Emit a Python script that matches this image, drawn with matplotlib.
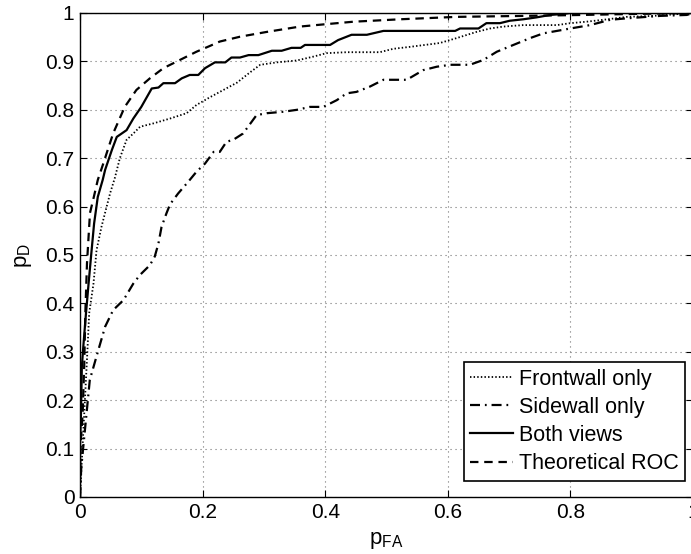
import matplotlib
matplotlib.use("Agg")
import matplotlib.pyplot as plt

plt.rcParams["font.family"] = ["Liberation Sans", "DejaVu Sans"]
plt.rcParams["mathtext.fontset"] = "custom"
plt.rcParams["mathtext.rm"] = "Liberation Sans"

# ROC operating points (false-alarm prob, detection prob)
front_pfa = [0, 0.002, 0.004, 0.008, 0.012, 0.015, 0.022, 0.027, 0.035, 0.0435,
             0.049, 0.057, 0.065, 0.076, 0.087, 0.098, 0.12, 0.147, 0.174, 0.19,
             0.212, 0.234, 0.256, 0.277, 0.294, 0.321, 0.354, 0.381, 0.402, 0.435,
             0.489, 0.511, 0.538, 0.587, 0.614, 0.647, 0.669, 0.691, 0.723, 0.778,
             0.80, 0.826, 0.854, 0.892, 0.935, 1.0]
front_pd = [0, 0.05, 0.1, 0.2, 0.3, 0.38, 0.441, 0.51, 0.558, 0.60,
            0.627, 0.66, 0.70, 0.738, 0.751, 0.765, 0.772, 0.782, 0.793, 0.810,
            0.826, 0.841, 0.856, 0.877, 0.893, 0.898, 0.902, 0.910, 0.917, 0.919,
            0.919, 0.926, 0.93, 0.938, 0.948, 0.961, 0.968, 0.972, 0.975, 0.975,
            0.979, 0.982, 0.986, 0.992, 0.994, 1.0]

side_pfa = [0, 0.002, 0.008, 0.016, 0.030, 0.041, 0.054, 0.071, 0.087, 0.098,
            0.114, 0.122, 0.128, 0.133, 0.141, 0.147, 0.160, 0.177, 0.19, 0.204,
            0.218, 0.228, 0.239, 0.25, 0.266, 0.288, 0.305, 0.332, 0.354, 0.375,
            0.397, 0.419, 0.435, 0.451, 0.473, 0.495, 0.533, 0.56, 0.582, 0.604,
            0.636, 0.658, 0.68, 0.707, 0.734, 0.756, 0.778, 0.80, 0.832, 0.865,
            0.892, 0.946, 0.99, 1.0]
side_pd = [0, 0.06, 0.138, 0.242, 0.304, 0.352, 0.386, 0.407, 0.441, 0.459,
           0.479, 0.497, 0.524, 0.558, 0.586, 0.605, 0.627, 0.652, 0.672, 0.689,
           0.713, 0.713, 0.734, 0.738, 0.751, 0.789, 0.793, 0.796, 0.80, 0.806,
           0.806, 0.820, 0.834, 0.837, 0.848, 0.862, 0.862, 0.882, 0.889, 0.893,
           0.893, 0.903, 0.920, 0.934, 0.948, 0.958, 0.963, 0.968, 0.975, 0.986,
           0.989, 0.994, 0.996, 1.0]

both_pfa = [0, 0.0, 0.0016, 0.003, 0.0054, 0.0098, 0.014, 0.018, 0.023, 0.029,
            0.037, 0.041, 0.052, 0.060, 0.076, 0.087, 0.100, 0.117, 0.128, 0.136,
            0.155, 0.166, 0.179, 0.193, 0.204, 0.220, 0.237, 0.247, 0.261, 0.275,
            0.291, 0.313, 0.329, 0.345, 0.360, 0.367, 0.408, 0.421, 0.443, 0.468,
            0.495, 0.612, 0.620, 0.650, 0.663, 0.685, 0.701, 0.723, 0.745, 0.767,
            0.788, 0.80, 1.0]
both_pd = [0, 0.104, 0.173, 0.269, 0.311, 0.38, 0.441, 0.497, 0.565, 0.62,
           0.655, 0.676, 0.717, 0.744, 0.758, 0.782, 0.806, 0.844, 0.846, 0.855,
           0.855, 0.865, 0.872, 0.872, 0.886, 0.898, 0.898, 0.908, 0.908, 0.913,
           0.913, 0.922, 0.922, 0.928, 0.928, 0.934, 0.934, 0.944, 0.955, 0.955,
           0.963, 0.963, 0.968, 0.968, 0.979, 0.979, 0.984, 0.987, 0.991, 0.996,
           0.998, 1.0, 1.0]

theo_pfa = [0, 0.0005, 0.0016, 0.0044, 0.007, 0.0087, 0.0114, 0.0163, 0.022, 0.029,
            0.038, 0.054, 0.073, 0.092, 0.114, 0.136, 0.163, 0.19, 0.212, 0.228,
            0.261, 0.305, 0.359, 0.402, 0.446, 0.522, 0.614, 0.723, 0.82, 0.9, 1.0]
theo_pd = [0, 0.08, 0.12, 0.174, 0.277, 0.38, 0.483, 0.587, 0.617, 0.655,
           0.689, 0.751, 0.806, 0.841, 0.865, 0.886, 0.903, 0.92, 0.932, 0.941,
           0.951, 0.961, 0.972, 0.977, 0.982, 0.987, 0.992, 0.994, 0.996, 0.998, 1.0]

x_ticks = [0, 0.2, 0.4, 0.6, 0.8, 1]
x_tick_labels = ["0", "0.2", "0.4", "0.6", "0.8", "1"]
y_ticks = [0, 0.1, 0.2, 0.3, 0.4, 0.5, 0.6, 0.7, 0.8, 0.9, 1]
y_tick_labels = ["0", "0.1", "0.2", "0.3", "0.4", "0.5", "0.6", "0.7", "0.8", "0.9", "1"]

W, H = 691, 554
fig = plt.figure(figsize=(W / 100, H / 100), dpi=100)
ax = fig.add_axes([80 / W, 57 / H, 613 / W, 484 / H])

ax.plot(front_pfa, front_pd, color="black", lw=1.3, linestyle=(0, (0.8, 1.2)),
        label="Frontwall only")
ax.plot(side_pfa, side_pd, color="black", lw=1.6, linestyle=(0, (4.5, 2.2, 0.8, 2.2)),
        label="Sidewall only")
ax.plot(both_pfa, both_pd, color="black", lw=1.6, linestyle="-",
        label="Both views")
ax.plot(theo_pfa, theo_pd, color="black", lw=1.6, linestyle=(0, (3.8, 2.6)),
        label="Theoretical ROC")

ax.set_xlim(0, 1)
ax.set_ylim(0, 1)
ax.set_xticks(x_ticks)
ax.set_xticklabels(x_tick_labels)
ax.set_yticks(y_ticks)
ax.set_yticklabels(y_tick_labels)
ax.tick_params(direction="in", top=True, right=True, length=5, width=0.8,
               labelsize=15, pad=4)
ax.grid(True, color="0.45", linestyle=(0, (1, 3.5)), lw=0.8)
for s in ax.spines.values():
    s.set_linewidth(1.0)

ax.set_xlabel(r"p$_{\mathrm{FA}}$", fontsize=16, labelpad=6)
ax.set_ylabel(r"p$_{\mathrm{D}}$", fontsize=16, labelpad=8)

leg = ax.legend(loc="lower right", bbox_to_anchor=(0.987, 0.034), fontsize=15.5,
                fancybox=False, framealpha=1, edgecolor="black",
                handlelength=2.0, handletextpad=0.25, labelspacing=0.33,
                borderpad=0.3, borderaxespad=0)
leg.get_frame().set_linewidth(1.2)

fig.savefig("out.png", dpi=100)
